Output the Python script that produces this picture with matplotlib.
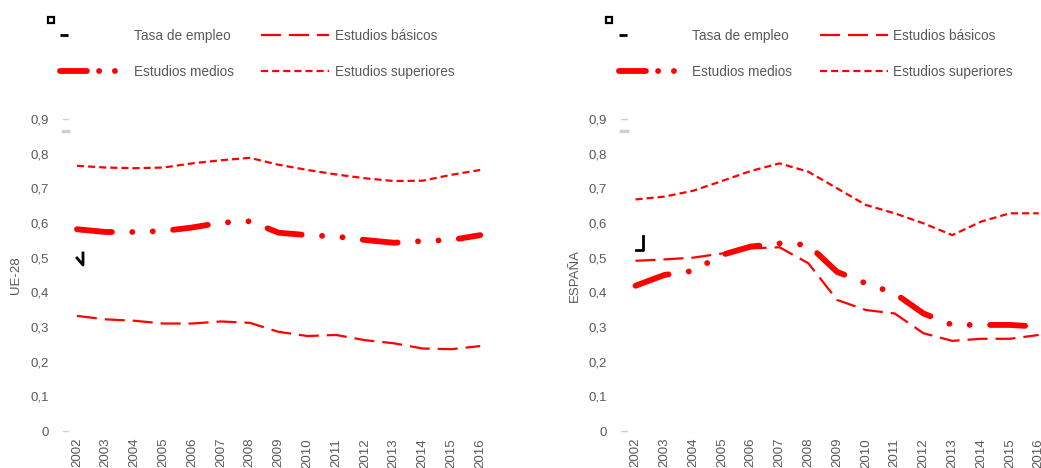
import matplotlib
matplotlib.use("Agg")
import matplotlib.pyplot as plt
from matplotlib.lines import Line2D
from matplotlib.ticker import FuncFormatter

plt.rcParams['font.family'] = ['Liberation Sans', 'DejaVu Sans']

# === Data ===
years = list(range(2002, 2017))

ue_basicos = [0.332, 0.322, 0.318, 0.310, 0.310, 0.316, 0.312, 0.286, 0.274, 0.277,
              0.262, 0.253, 0.238, 0.236, 0.245]
ue_medios = [0.582, 0.574, 0.574, 0.577, 0.587, 0.601, 0.605, 0.572, 0.565, 0.561,
             0.551, 0.543, 0.548, 0.551, 0.565]
ue_superiores = [0.765, 0.760, 0.758, 0.760, 0.772, 0.781, 0.788, 0.768, 0.753, 0.740,
                 0.729, 0.721, 0.722, 0.739, 0.753]

es_basicos = [0.491, 0.495, 0.500, 0.512, 0.527, 0.530, 0.484, 0.378, 0.349, 0.339,
              0.282, 0.260, 0.266, 0.266, 0.277]
es_medios = [0.419, 0.450, 0.462, 0.508, 0.532, 0.541, 0.537, 0.459, 0.426, 0.397,
             0.339, 0.306, 0.306, 0.306, 0.301]
es_superiores = [0.668, 0.676, 0.693, 0.721, 0.750, 0.772, 0.748, 0.700, 0.652, 0.628,
                 0.599, 0.565, 0.604, 0.628, 0.628]

panels = [("UE-28", ue_basicos, ue_medios, ue_superiores),
          ("ESPAÑA", es_basicos, es_medios, es_superiores)]
yticks = [0, 0.1, 0.2, 0.3, 0.4, 0.5, 0.6, 0.7, 0.8, 0.9]
# legend is filled column-wise, so this order gives rows: tasa/basicos, medios/superiores
legend_names = ["Tasa de empleo", "Estudios medios", "Estudios básicos", "Estudios superiores"]

# === Styles ===
RED = "#FF0000"
GREY = "#595959"
W, H = 1041, 468

style_basicos = dict(color=RED, lw=1.6, dashes=[9, 3.6])
style_medios = dict(color=RED, lw=4.2, dashes=[6.0, 3.5, 0.01, 3.5, 0.01, 3.5],
                    dash_capstyle="round")
style_medios_leg = dict(color=RED, lw=4.2, dashes=[4.6, 2.1, 0.01, 2.7, 0.01, 20],
                        dash_capstyle="round")
style_superiores = dict(color=RED, lw=1.6, dashes=[3.2, 1.8])
style_tasa = dict(color="black", lw=2.0, dashes=[2.9, 100])

fig = plt.figure(figsize=(W / 100, H / 100), dpi=100)

axes_left = [62.6, 621.1]
for (label, bas, med, sup), left in zip(panels, axes_left):
    ax = fig.add_axes([left / W, (H - 431) / H, 432 / W, 312 / H])
    ax.plot(years, sup, **style_superiores)
    ax.plot(years, bas, **style_basicos)
    ax.plot(years, med, **style_medios)

    ax.set_xlim(2001.5, 2016.5)
    ax.set_ylim(0, 0.9)
    ax.set_xticks(years)
    ax.set_xticklabels([str(y) for y in years], rotation=90)
    ax.set_yticks(yticks)
    ax.yaxis.set_major_formatter(FuncFormatter(lambda v, p: "0" if v == 0 else f"{v:.1f}".replace(".", ",")))
    ax.tick_params(axis="both", length=0, labelsize=9.5, labelcolor=GREY)
    ax.tick_params(axis="y", pad=10)
    ax.tick_params(axis="x", pad=5)
    for s in ax.spines.values():
        s.set_visible(False)
    ax.set_ylabel(label, fontsize=9.5, color=GREY, labelpad=6)

    # small grey axis marks
    for yv, lw in [(0.9, 1.0), (0.865, 2.5), (0, 1.0)]:
        ax.axhline(yv, 0, 0.013, color="#D0D0D0", lw=lw, clip_on=False)

    handles = [Line2D([], [], **style_tasa), Line2D([], [], **style_medios_leg),
               Line2D([], [], **style_basicos), Line2D([], [], **style_superiores)]
    fig.legend(handles, legend_names, ncol=2, frameon=False, loc="upper left",
               bbox_to_anchor=((left - 9) / W, 1 - 22 / H), borderpad=0,
               handlelength=5.0, handletextpad=0.4, columnspacing=2.0,
               labelspacing=1.6, fontsize=9.8, labelcolor=GREY)

    # stray black mark from the original chart
    fig.add_artist(Line2D([(left - 12) / W], [1 - 20 / H], marker="s", ms=5,
                          mfc="white", mec="black", mew=1.6, transform=fig.transFigure))

# black artifacts inside plots
fig.add_artist(Line2D([77 / W, 83 / W, 83 / W], [1 - 258 / H, 1 - 265 / H, 1 - 253 / H],
                      color="black", lw=2, transform=fig.transFigure))
fig.add_artist(Line2D([643 / W, 643 / W, 636 / W], [1 - 236 / H, 1 - 250 / H, 1 - 250 / H],
                      color="black", lw=2, transform=fig.transFigure))

fig.savefig("out.png", dpi=100)
